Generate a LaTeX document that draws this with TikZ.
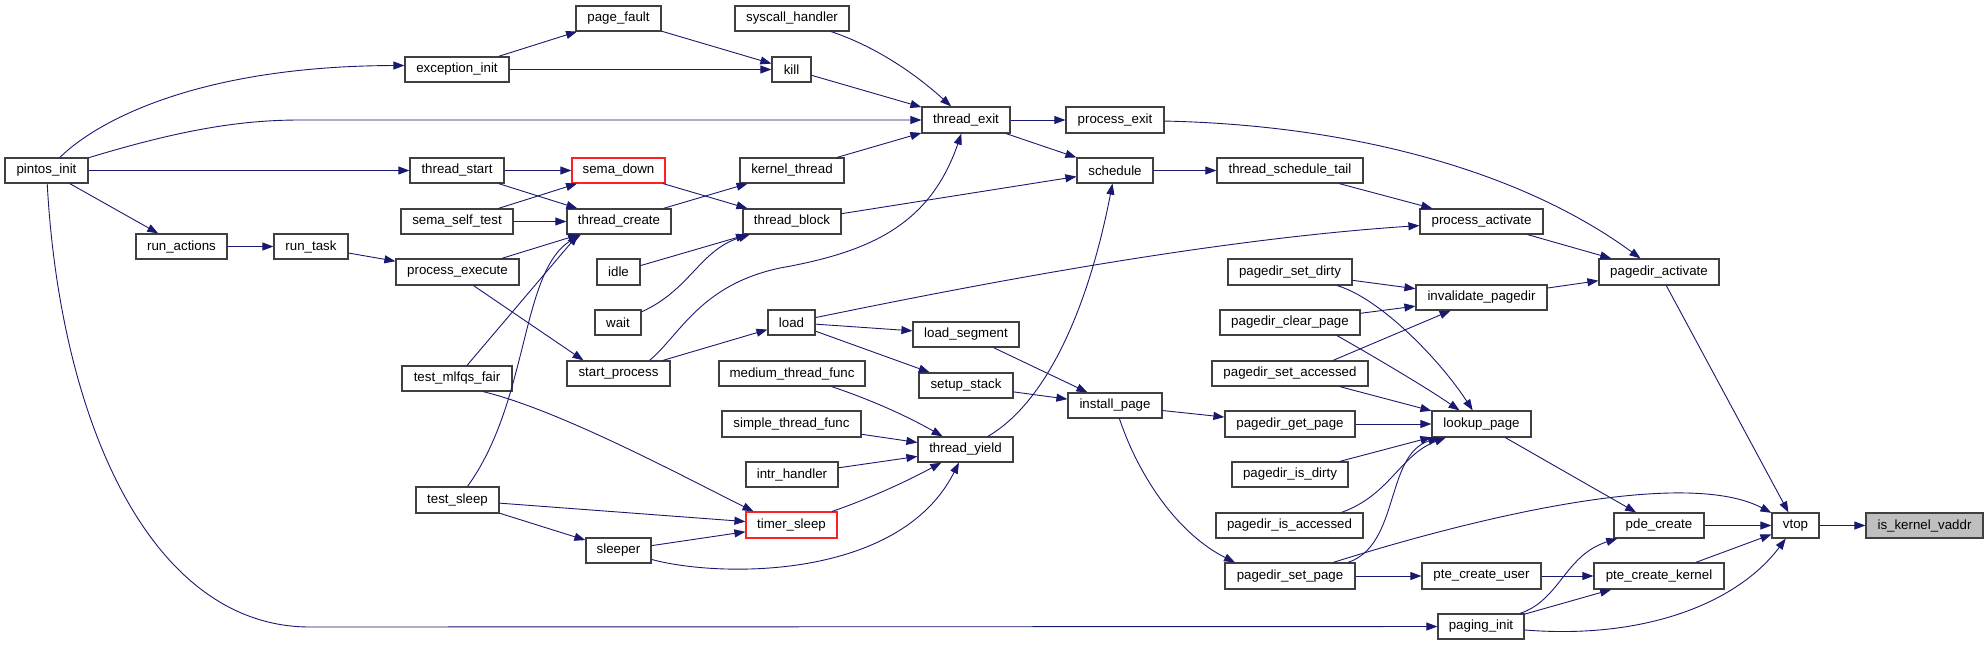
\documentclass[tikz,border=0pt]{standalone}
\usepackage{fontspec}
\setmainfont{Liberation Sans}
\usetikzlibrary{arrows.meta}
\definecolor{edgec}{HTML}{191970}
\definecolor{bordc}{HTML}{404040}
\definecolor{hlred}{HTML}{FF2020}
\definecolor{grayfill}{HTML}{BFBFBF}
\newcommand\bx[7][box]{\node[#1, minimum width={#4-#2}, minimum height={#5-#3}] (#6) at ({(#2+#4)/2},{(#3+#5)/2}) {#7};}
\begin{document}
\begin{tikzpicture}[x=1pt,y=-1pt,
 box/.style={draw=bordc, line width=1.2pt, fill=white, inner sep=0pt, font=\fontsize{13.3}{16}\selectfont, text=black},
 redbox/.style={box, draw=hlred},
 graybox/.style={box, fill=grayfill},
 edge/.style={draw=edgec, line width=0.9pt, -{Triangle[length=11pt,width=8pt]}},
]
\useasboundingbox[fill=white] (0,0) rectangle (1988,645);
% nodes
\bx{5}{158}{88}{183}{pintosinit}{pintos\_init}
\bx{405}{57}{509}{82}{exceptioninit}{exception\_init}
\bx{410}{158}{504}{183}{threadstart}{thread\_start}
\bx{401}{209}{513}{234}{semaselftest}{sema\_self\_test}
\bx{136}{234}{227}{259}{runactions}{run\_actions}
\bx{274}{234}{348}{259}{runtask}{run\_task}
\bx{396}{259}{519}{285}{processexecute}{process\_execute}
\bx{402}{366}{512}{391}{testmlfqsfair}{test\_mlfqs\_fair}
\bx{416}{487}{499}{513}{testsleep}{test\_sleep}
\bx{576}{6}{661}{31}{pagefault}{page\_fault}
\bx{735}{6}{849}{31}{syscallhandler}{syscall\_handler}
\bx{772}{57}{811}{82}{kill}{kill}
\bx{922}{107}{1010}{133}{threadexit}{thread\_exit}
\bx[redbox]{572}{158}{665}{183}{semadown}{sema\_down}
\bx{740}{158}{844}{183}{kernelthread}{kernel\_thread}
\bx{567}{209}{671}{234}{threadcreate}{thread\_create}
\bx{743}{209}{841}{234}{threadblock}{thread\_block}
\bx{597}{259}{640}{285}{idle}{idle}
\bx{595}{310}{641}{335}{wait}{wait}
\bx{768}{310}{815}{335}{load}{load}
\bx{567}{361}{670}{386}{startprocess}{start\_process}
\bx{913}{322}{1019}{347}{loadsegment}{load\_segment}
\bx{719}{361}{865}{386}{mediumthreadfunc}{medium\_thread\_func}
\bx{919}{373}{1013}{398}{setupstack}{setup\_stack}
\bx{722}{411}{861}{437}{simplethreadfunc}{simple\_thread\_func}
\bx{918}{437}{1013}{462}{threadyield}{thread\_yield}
\bx{746}{462}{838}{487}{intrhandler}{intr\_handler}
\bx[redbox]{746}{512}{837}{538}{timersleep}{timer\_sleep}
\bx{586}{538}{651}{563}{sleeper}{sleeper}
\bx{1066}{107}{1164}{133}{processexit}{process\_exit}
\bx{1077}{158}{1153}{183}{schedule}{schedule}
\bx{1217}{158}{1363}{183}{threadscheduletail}{thread\_schedule\_tail}
\bx{1420}{209}{1543}{234}{processactivate}{process\_activate}
\bx{1228}{259}{1352}{285}{pagedirsetdirty}{pagedir\_set\_dirty}
\bx{1416}{285}{1547}{310}{invalidatepagedir}{invalidate\_pagedir}
\bx{1220}{310}{1360}{335}{pagedirclearpage}{pagedir\_clear\_page}
\bx{1599}{259}{1719}{285}{pagediractivate}{pagedir\_activate}
\bx{1212}{361}{1368}{386}{pagedirsetaccessed}{pagedir\_set\_accessed}
\bx{1068}{393}{1162}{418}{installpage}{install\_page}
\bx{1225}{411}{1355}{437}{pagedirgetpage}{pagedir\_get\_page}
\bx{1432}{411}{1531}{437}{lookuppage}{lookup\_page}
\bx{1232}{462}{1348}{487}{pagedirisdirty}{pagedir\_is\_dirty}
\bx{1216}{513}{1363}{538}{pagedirisaccessed}{pagedir\_is\_accessed}
\bx{1225}{563}{1355}{589}{pagedirsetpage}{pagedir\_set\_page}
\bx{1422}{563}{1541}{589}{ptecreateuser}{pte\_create\_user}
\bx{1438}{614}{1524}{639}{paginginit}{paging\_init}
\bx{1614}{513}{1704}{538}{pdecreate}{pde\_create}
\bx{1772}{513}{1819}{538}{vtop}{vtop}
\bx[graybox]{1866}{513}{1983}{538}{iskernelvaddr}{is\_kernel\_vaddr}
\bx{1594}{563}{1724}{589}{ptecreatekernel}{pte\_create\_kernel}
% edges
\draw[edge] (pintosinit) .. controls (98,120) and (200,66) .. ([yshift=4]exceptioninit.west);
\draw[edge] (pintosinit) .. controls (180,130) and (240,120) .. (300,120) -- (threadexit);
\draw[edge] (pintosinit) -- (threadstart);
\draw[edge] (pintosinit) -- (runactions);
\draw[edge] (pintosinit) .. controls (60,420) and (150,627) .. (310,627) -- (paginginit);
\draw[edge] (exceptioninit) -- (pagefault);
\draw[edge] (exceptioninit) -- (kill);
\draw[edge] (pagefault) -- (kill);
\draw[edge] (syscallhandler) .. controls (880,48) and (920,78) .. (threadexit);
\draw[edge] (kill) -- (threadexit);
\draw[edge] (threadexit) -- (processexit);
\draw[edge] (threadexit) -- (schedule);
\draw[edge] (kernelthread) -- (threadexit);
\draw[edge] ([xshift=31]startprocess.north) .. controls (680,335) and (700,285) .. (780,268) .. controls (870,252) and (930,225) .. (threadexit);
\draw[edge] (threadstart) -- (semadown);
\draw[edge] (threadstart) -- (threadcreate);
\draw[edge] (semaselftest) -- (semadown);
\draw[edge] (semaselftest) -- (threadcreate);
\draw[edge] (processexecute) -- ([xshift=-40]threadcreate.south);
\draw[edge] ([xshift=16]processexecute.south) -- ([xshift=-35]startprocess.north);
\draw[edge] ([xshift=10]testmlfqsfair.north) -- ([xshift=-41]threadcreate.south);
\draw[edge] ([xshift=10]testsleep.north) .. controls (530,400) and (520,270) .. ([xshift=-38]threadcreate.south);
\draw[edge] (threadcreate) -- (kernelthread);
\draw[edge] (semadown) -- (threadblock);
\draw[edge] (idle) -- (threadblock);
\draw[edge] (wait) .. controls (690,290) and (700,250) .. (threadblock);
\draw[edge] (threadblock) -- (schedule);
\draw[edge] (runactions) -- (runtask);
\draw[edge] (runtask) -- (processexecute);
\draw[edge] (schedule) -- (threadscheduletail);
\draw[edge] (threadscheduletail) -- (processactivate);
\draw[edge] (load) .. controls (950,290) and (1200,240) .. (processactivate);
\draw[edge] (processexit) .. controls (1350,125) and (1520,170) .. (pagediractivate);
\draw[edge] (processactivate) -- (pagediractivate);
\draw[edge] (invalidatepagedir) -- (pagediractivate);
\draw[edge] (pagedirsetdirty) -- (invalidatepagedir);
\draw[edge] (pagedirclearpage) -- (invalidatepagedir);
\draw[edge] ([xshift=43]pagedirsetaccessed.north) -- (invalidatepagedir);
\draw[edge] (pagedirsetdirty) .. controls (1380,298) and (1440,360) .. (lookuppage);
\draw[edge] ([xshift=47]pagedirclearpage.south) .. controls (1380,360) and (1430,390) .. ([xshift=-22]lookuppage.north);
\draw[edge] (pagedirsetaccessed) -- (lookuppage);
\draw[edge] (pagedirgetpage) -- (lookuppage);
\draw[edge] (pagedirisdirty) -- (lookuppage);
\draw[edge] ([xshift=52]pagedirisaccessed.north) .. controls (1390,495) and (1400,455) .. (lookuppage);
\draw[edge] ([xshift=58]pagedirsetpage.north) .. controls (1400,545) and (1385,455) .. (lookuppage);
\draw[edge] (load) -- (loadsegment);
\draw[edge] (load) -- (setupstack);
\draw[edge] (startprocess) -- (load);
\draw[edge] (loadsegment) -- (installpage);
\draw[edge] (setupstack) -- (installpage);
\draw[edge] (installpage) -- (pagedirgetpage);
\draw[edge] (installpage) .. controls (1140,480) and (1180,535) .. ([xshift=-55]pagedirsetpage.north);
\draw[edge] (mediumthreadfunc) .. controls (860,396) and (900,412) .. (threadyield);
\draw[edge] (simplethreadfunc) -- (threadyield);
\draw[edge] (intrhandler) -- (threadyield);
\draw[edge] (timersleep) .. controls (860,502) and (900,485) .. (threadyield);
\draw[edge] (sleeper) .. controls (720,578) and (900,580) .. (threadyield);
\draw[edge] (threadyield) .. controls (1050,400) and (1090,300) .. (schedule);
\draw[edge] ([xshift=26]testmlfqsfair.south) .. controls (560,410) and (690,480) .. ([xshift=-38]timersleep.north);
\draw[edge] (testsleep) -- (timersleep);
\draw[edge] (testsleep) -- (sleeper);
\draw[edge] (sleeper) -- (timersleep);
\draw[edge] (lookuppage) -- (pdecreate);
\draw[edge] (pagedirsetpage) .. controls (1500,510) and (1690,470) .. (vtop);
\draw[edge] (pagedirsetpage) -- (ptecreateuser);
\draw[edge] (pdecreate) -- (vtop);
\draw[edge] (ptecreatekernel) -- (vtop);
\draw[edge] (ptecreateuser) -- (ptecreatekernel);
\draw[edge] (paginginit) .. controls (1560,600) and (1565,555) .. (pdecreate);
\draw[edge] (paginginit) -- (ptecreatekernel);
\draw[edge] (paginginit) .. controls (1650,640) and (1740,600) .. (vtop);
\draw[edge] (pagediractivate) -- (vtop);
\draw[edge] (vtop) -- (iskernelvaddr);
\end{tikzpicture}
\end{document}
